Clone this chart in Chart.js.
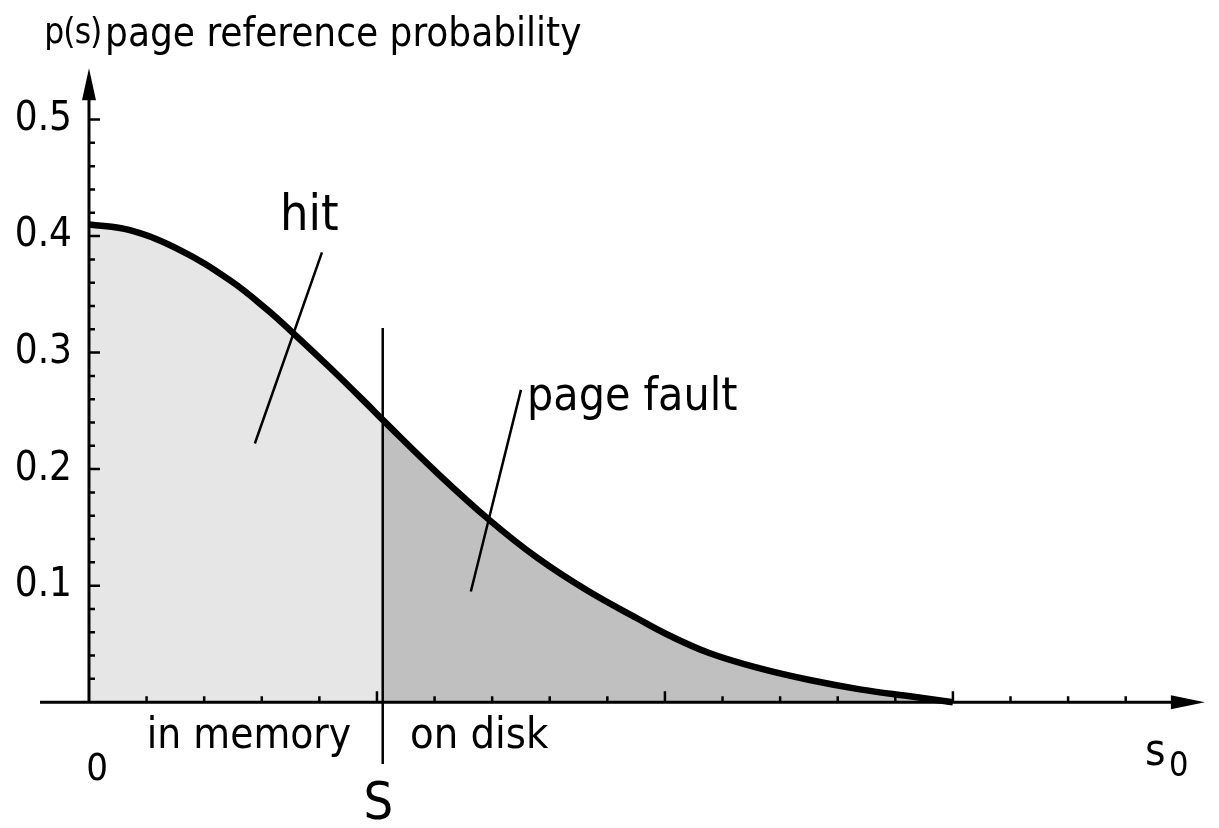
<!DOCTYPE html>
<html>
<head>
<meta charset="utf-8">
<title>page reference probability</title>
<script src="https://cdn.jsdelivr.net/npm/chart.js@4.4.1/dist/chart.umd.min.js"></script>
<style>
  html, body { margin: 0; padding: 0; background: #ffffff; }
  #wrap { width: 1219px; height: 828px; }
</style>
</head>
<body>
<div id="wrap"><canvas id="pageChart" width="1219" height="828"></canvas></div>
<script>
// s (distance in the LRU stack) and p(s)
const sValues = [0, 0.142, 0.316, 0.490, 0.618, 0.708, 0.837, 0.965, 1.021, 1.208, 1.392,
                 1.556, 1.729, 1.903, 2.017, 2.156, 2.330, 2.503, 2.677, 2.851, 3.0];
const pValues = [0.410, 0.405, 0.388, 0.362, 0.337, 0.317, 0.287, 0.256, 0.242, 0.197, 0.156,
                 0.124, 0.096, 0.072, 0.057, 0.042, 0.029, 0.019, 0.011, 0.005, 0.0];
// index of the point where the memory size S splits the curve
const boundaryIndex = 8;
const memorySize = 1.02;

// axis ticks
const yMajorTicks = [0.1, 0.2, 0.3, 0.4, 0.5];
const yTickLabels = ['0.1', '0.2', '0.3', '0.4', '0.5'];
const yMinorTicks = [0.02, 0.04, 0.06, 0.08, 0.12, 0.14, 0.16, 0.18, 0.22, 0.24, 0.26, 0.28,
                     0.32, 0.34, 0.36, 0.38, 0.42, 0.44, 0.46, 0.48];
const xMajorTicks = [1, 2, 3];
const xMinorTicks = [0.2, 0.4, 0.6, 0.8, 1.2, 1.4, 1.6, 1.8, 2.2, 2.4, 2.6, 2.8,
                     3.2, 3.4, 3.6];

const FONT = '"DejaVu Sans Condensed", "DejaVu Sans", sans-serif';

function points(from, to) {
    const out = [];
    for (let i = from; i <= to; i++) out.push({ x: sValues[i], y: pValues[i] });
    return out;
}

// Axes, arrows, ticks, the S line, leader lines and all the labels
const sketchPlugin = {
    id: 'sketch',
    afterDatasetsDraw(chart) {
        const ctx = chart.ctx;
        const xs = chart.scales.x;
        const ys = chart.scales.y;
        const px = v => xs.getPixelForValue(v);
        const py = v => ys.getPixelForValue(v);

        ctx.save();
        ctx.strokeStyle = '#000';
        ctx.fillStyle = '#000';
        ctx.lineCap = 'butt';

        // axis lines
        ctx.lineWidth = 3;
        ctx.beginPath();
        ctx.moveTo(px(-0.17), py(0));
        ctx.lineTo(px(3.76), py(0));
        ctx.moveTo(px(0), py(0));
        ctx.lineTo(px(0), py(0.52));
        ctx.stroke();

        // arrow heads
        ctx.beginPath();
        ctx.moveTo(px(0), py(0.544));
        ctx.lineTo(px(0) - 7, py(0.544) + 32);
        ctx.lineTo(px(0) + 7, py(0.544) + 32);
        ctx.closePath();
        ctx.fill();
        ctx.beginPath();
        ctx.moveTo(px(3.875), py(0));
        ctx.lineTo(px(3.875) - 34, py(0) - 7);
        ctx.lineTo(px(3.875) - 34, py(0) + 7);
        ctx.closePath();
        ctx.fill();

        // ticks
        ctx.lineWidth = 2.5;
        ctx.beginPath();
        yMajorTicks.forEach(v => { ctx.moveTo(px(0), py(v)); ctx.lineTo(px(0) + 11, py(v)); });
        yMinorTicks.forEach(v => { ctx.moveTo(px(0), py(v)); ctx.lineTo(px(0) + 6, py(v)); });
        xMajorTicks.forEach(v => { ctx.moveTo(px(v), py(0)); ctx.lineTo(px(v), py(0) - 11); });
        xMinorTicks.forEach(v => { ctx.moveTo(px(v), py(0)); ctx.lineTo(px(v), py(0) - 6); });
        ctx.stroke();

        // memory size line S
        ctx.lineWidth = 2.5;
        ctx.beginPath();
        ctx.moveTo(px(memorySize), py(0.321));
        ctx.lineTo(px(memorySize), py(-0.053));
        ctx.stroke();

        // leader lines
        ctx.beginPath();
        ctx.moveTo(px(0.809), py(0.386));
        ctx.lineTo(px(0.576), py(0.222));
        ctx.moveTo(px(1.5), py(0.268));
        ctx.lineTo(px(1.326), py(0.095));
        ctx.stroke();

        // tick labels
        ctx.font = '40px ' + FONT;
        ctx.textAlign = 'right';
        ctx.textBaseline = 'middle';
        yMajorTicks.forEach((v, i) => ctx.fillText(yTickLabels[i], px(-0.059), py(v)));

        ctx.textBaseline = 'alphabetic';
        ctx.textAlign = 'center';
        ctx.font = '38px ' + FONT;
        ctx.fillText('0', px(0.028), py(-0.067));
        ctx.font = '52px ' + FONT;
        ctx.fillText('S', px(1.005), py(-0.1));

        // text labels
        ctx.textAlign = 'left';
        ctx.font = '35px ' + FONT;
        ctx.letterSpacing = '-1px';
        ctx.fillText('p(s)', px(-0.155), py(0.566));
        ctx.letterSpacing = '0px';
        ctx.font = '40px ' + FONT;
        ctx.fillText('page reference probability', px(0.056), py(0.5635));
        ctx.font = '50px ' + FONT;
        ctx.fillText('hit', px(0.663), py(0.405));
        ctx.font = '46px ' + FONT;
        ctx.fillText('page fault', px(1.521), py(0.251));
        ctx.font = '42px ' + FONT;
        ctx.fillText('in memory', px(0.201), py(-0.0395));
        ctx.font = '43px ' + FONT;
        ctx.fillText('on disk', px(1.115), py(-0.0395));
        ctx.font = '44px ' + FONT;
        ctx.fillText('s', px(3.667), py(-0.054));
        ctx.font = '34px ' + FONT;
        ctx.fillText('0', px(3.75), py(-0.063));

        ctx.restore();
    }
};

const chart = new Chart(document.getElementById('pageChart'), {
    type: 'line',
    data: {
        datasets: [
            {
                label: 'p(s)',
                data: points(0, sValues.length - 1),
                borderColor: '#000000',
                borderWidth: 6.5,
                pointRadius: 0,
                fill: false,
                tension: 0.4
            },
            {
                label: 'hit',
                data: points(0, boundaryIndex),
                borderWidth: 0,
                borderColor: 'rgba(0,0,0,0)',
                backgroundColor: '#e6e6e6',
                pointRadius: 0,
                fill: 'origin',
                tension: 0.4
            },
            {
                label: 'page fault',
                data: points(boundaryIndex, sValues.length - 1),
                borderWidth: 0,
                borderColor: 'rgba(0,0,0,0)',
                backgroundColor: '#c0c0c0',
                pointRadius: 0,
                fill: 'origin',
                tension: 0.4
            }
        ]
    },
    options: {
        responsive: false,
        animation: false,
        layout: { padding: 0 },
        plugins: {
            legend: { display: false },
            tooltip: { enabled: false }
        },
        scales: {
            x: { type: 'linear', min: -0.309, max: 3.924, display: false },
            y: { type: 'linear', min: -0.108, max: 0.6026, display: false }
        }
    },
    plugins: [sketchPlugin]
});
</script>
</body>
</html>
